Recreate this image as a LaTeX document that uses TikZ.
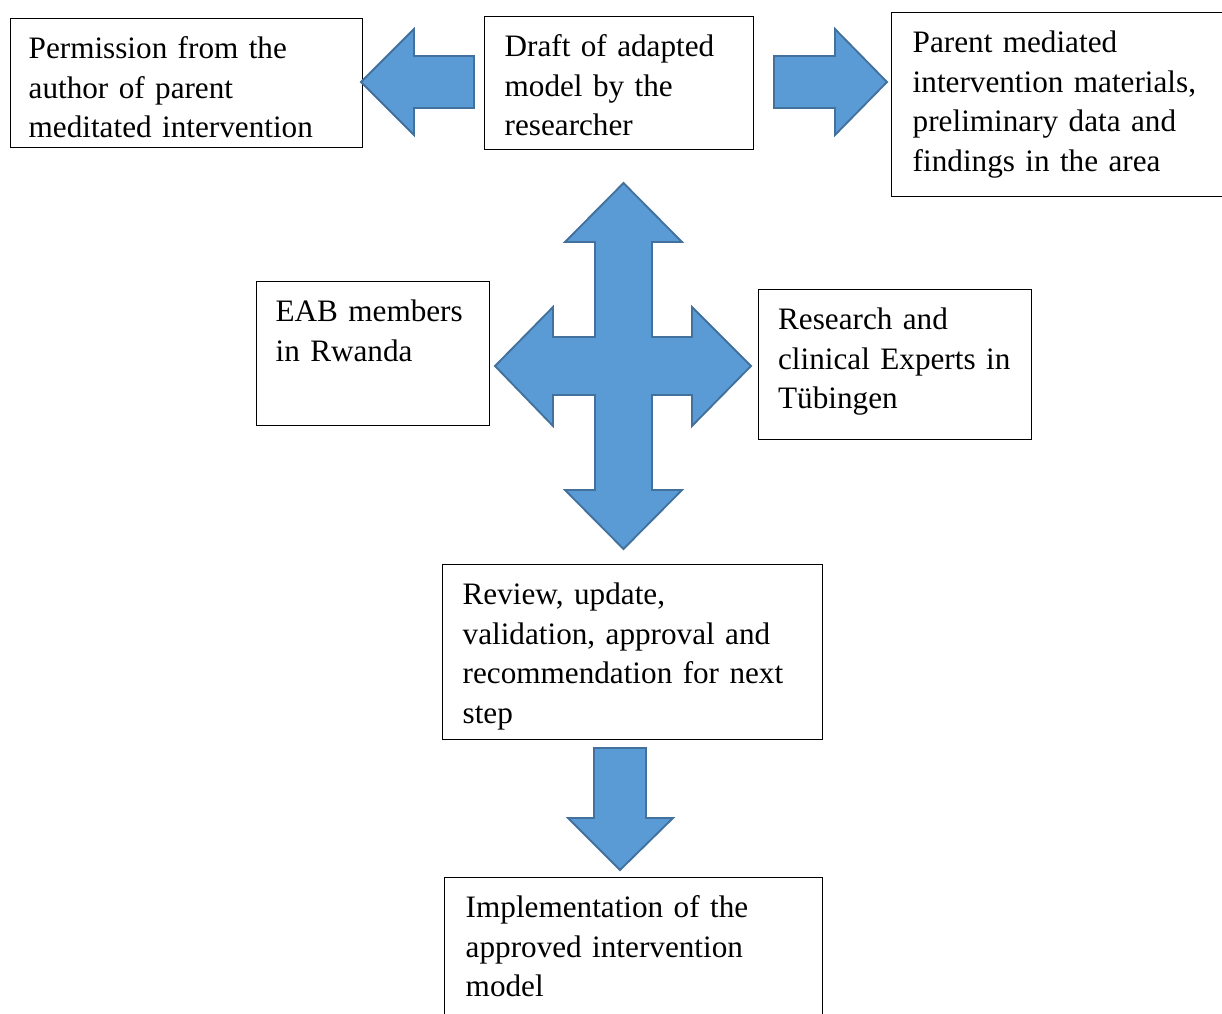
\documentclass[tikz,border=0pt]{standalone}
\usepackage{fontspec}
\setmainfont{Liberation Serif}
\usepackage{xcolor}
\definecolor{arrowfill}{HTML}{5B9BD5}
\definecolor{arrowline}{HTML}{41719C}

\begin{document}
\begin{tikzpicture}[x=0.375pt,y=-0.375pt,
  blk/.style={draw,line width=0.5pt,anchor=north west,align=left,
    inner ysep=0pt,text height=15pt,font=\fontsize{11.7}{14.8}\selectfont},
  bigarrow/.style={fill=arrowfill,draw=arrowline,line width=0.7pt,line join=miter}]
\useasboundingbox (0,0) rectangle (1222,1013);

%% boxes
\node[blk,inner xsep=6.75pt,text width=118.5pt,text depth=33.4pt] (perm) at (10,18)
  {Permission from the\\author of parent\\meditated intervention};
\node[blk,inner xsep=7.5pt,text width=85.9pt,text depth=34.9pt] (draft) at (484,16)
  {Draft of adapted\\model by the\\researcher};
\node[blk,inner xsep=7.9pt,text width=111.7pt,text depth=54pt] (mat) at (891,12)
  {Parent mediated\\intervention materials,\\preliminary data and\\findings in the area};
\node[blk,inner xsep=7.1pt,text width=73.1pt,text depth=39pt] (eab) at (256,281)
  {EAB members\\in Rwanda};
\node[blk,inner xsep=7.3pt,text width=87.8pt,text depth=41.2pt] (exp) at (758,289)
  {Research and\\clinical Experts in\\Tübingen};
\node[blk,inner xsep=7.5pt,text width=127.5pt,text depth=50.6pt] (rev) at (442,564)
  {Review, update,\\validation, approval and\\recommendation for next\\step};
\node[blk,inner xsep=7.9pt,text width=126pt,text depth=45pt] (impl) at (444,877)
  {Implementation of the\\approved intervention\\model};

%% arrows
\draw[bigarrow] (474,56) -- (414,56) -- (414,29) -- (361,82) -- (414,135) -- (414,108) -- (474,108) -- cycle;
\draw[bigarrow] (774,56) -- (835,56) -- (835,29) -- (887,82) -- (835,135) -- (835,108) -- (774,108) -- cycle;
\draw[bigarrow] (623.5,183) -- (682,242) -- (652,242) -- (652,337) -- (692,337) -- (692,307)
  -- (751,366) -- (692,426) -- (692,395) -- (652,395) -- (652,490) -- (682,490)
  -- (623.5,549) -- (565,490) -- (595,490) -- (595,395) -- (553,395) -- (553,426)
  -- (495,366) -- (553,307) -- (553,337) -- (595,337) -- (595,242) -- (565,242) -- cycle;
\draw[bigarrow] (594,748) -- (646,748) -- (646,818) -- (673,818) -- (620,870) -- (568,818) -- (594,818) -- cycle;
\end{tikzpicture}
\end{document}
